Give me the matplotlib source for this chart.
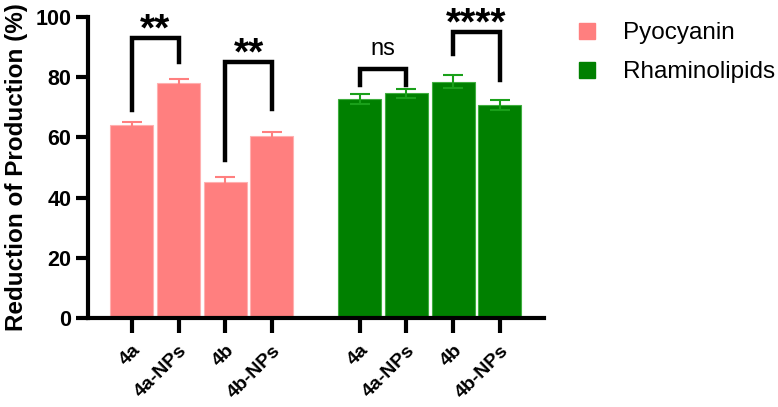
import numpy as np
import matplotlib.pyplot as plt

plt.rcParams['font.family'] = ['Liberation Sans', 'DejaVu Sans']

labels = ['4a', '4a-NPs', '4b', '4b-NPs']
pyo_vals = [64.0, 78.0, 45.3, 60.3]
pyo_err = [1.2, 1.2, 1.5, 1.3]
rham_vals = [72.7, 74.6, 78.5, 70.8]
rham_err = [1.6, 1.5, 2.2, 1.6]

# significance brackets: (left idx, right idx, top, left leg end, right leg end, text)
pyo_sig = [(0, 1, 93.0, 69.0, 85.0, '**'), (2, 3, 85.0, 52.5, 69.4, '**')]
rham_sig = [(0, 1, 82.6, 77.4, 77.4, 'ns'), (2, 3, 94.8, 87.5, 79.0, '****')]

pyo_col = '#FF7F7F'
rham_col = '#008000'

fig = plt.figure(figsize=(7.78, 4.07), dpi=100)
ax = fig.add_axes([0.113, 0.218, 0.586, 0.741])

x_pyo = np.arange(4)
x_rham = np.arange(4) + 4.88
w = 0.92

ax.bar(x_pyo, pyo_vals, w, color=pyo_col, edgecolor='#ffb0b0', lw=0.8,
       yerr=pyo_err, error_kw=dict(ecolor=pyo_col, capsize=7, elinewidth=1.5, capthick=1.5),
       label='Pyocyanin')
ax.bar(x_rham, rham_vals, w, color=rham_col, edgecolor='#3fae3f', lw=0.8,
       yerr=rham_err, error_kw=dict(ecolor='#1aa01a', capsize=7, elinewidth=1.5, capthick=1.5),
       label='Rhaminolipids')

def bracket(xs, sig):
    for i, j, top, l_end, r_end, txt in sig:
        x1, x2 = xs[i], xs[j]
        ax.plot([x1, x1, x2, x2], [l_end, top, top, r_end], color='black', lw=3.2,
                solid_joinstyle='miter', clip_on=False)
        if txt == 'ns':
            ax.text((x1 + x2) / 2, top + 4.7, txt, ha='center', va='baseline', fontsize=17)
        else:
            ax.text((x1 + x2) / 2, top - 0.8, txt, ha='center', va='baseline', fontsize=28,
                    fontweight='bold', clip_on=False)

bracket(x_pyo, pyo_sig)
bracket(x_rham, rham_sig)

ax.set_ylim(0, 100)
ax.set_xlim(-0.94, 8.82)
ax.set_yticks([0, 20, 40, 60, 80, 100])
ax.set_xticks(list(x_pyo) + list(x_rham))
ax.set_xticklabels(labels + labels, rotation=45, ha='right', rotation_mode='anchor',
                   fontsize=14, fontweight='bold')
for t in ax.get_yticklabels():
    t.set_fontsize(15.5)
    t.set_fontweight('bold')
ax.tick_params(axis='x', length=11, width=3, pad=6)
ax.tick_params(axis='y', length=9, width=3, pad=3)
ax.spines['right'].set_visible(False)
ax.spines['top'].set_visible(False)
ax.spines['left'].set_linewidth(3)
ax.spines['bottom'].set_linewidth(3)
ax.set_ylabel('Reduction of Production (%)', fontsize=17.5, fontweight='bold', labelpad=5)

handles = [plt.Line2D([], [], marker='s', ls='', ms=12.2, color=pyo_col),
           plt.Line2D([], [], marker='s', ls='', ms=12.2, color=rham_col)]
fig.legend(handles, ['Pyocyanin', 'Rhaminolipids'], loc='upper left',
           bbox_to_anchor=(0.744, 0.945), frameon=False, fontsize=17.5,
           handlelength=0.7, handletextpad=1.1, labelspacing=0.7,
           borderpad=0, borderaxespad=0)

fig.savefig('out.png', dpi=100)
